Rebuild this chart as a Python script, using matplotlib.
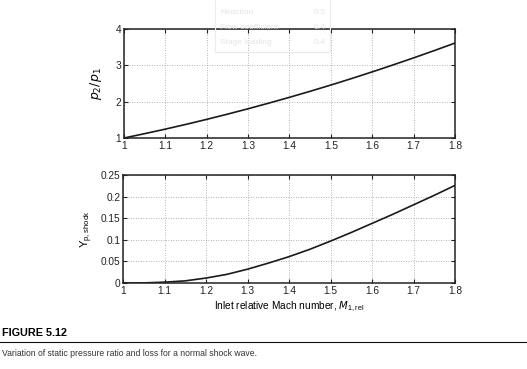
import numpy as np
import matplotlib
matplotlib.use('Agg')
import matplotlib.pyplot as plt
from matplotlib.lines import Line2D

plt.rcParams['font.family'] = ['Liberation Sans', 'DejaVu Sans']

# inlet relative Mach number
mach = [1.00, 1.05, 1.10, 1.15, 1.20, 1.25, 1.30, 1.35, 1.40,
        1.45, 1.50, 1.55, 1.60, 1.65, 1.70, 1.75, 1.80]
# static pressure ratio
p_ratio = [1.000, 1.120, 1.245, 1.376, 1.513, 1.656, 1.805, 1.960, 2.120,
           2.286, 2.458, 2.636, 2.820, 3.010, 3.205, 3.406, 3.613]
# shock loss
y_shock = [0.0, 0.0003, 0.002, 0.005, 0.0115, 0.020, 0.032, 0.046, 0.061,
           0.078, 0.097, 0.117, 0.138, 0.159, 0.181, 0.203, 0.226]

x_ticks = [1, 1.1, 1.2, 1.3, 1.4, 1.5, 1.6, 1.7, 1.8]
x_ticklabels = ['1', '1.1', '1.2', '1.3', '1.4', '1.5', '1.6', '1.7', '1.8']
top_yticks = [1, 2, 3, 4]
bot_yticks = [0, 0.05, 0.1, 0.15, 0.2, 0.25]
bot_yticklabels = ['0', '0.05', '0.1', '0.15', '0.2', '0.25']

# faint table showing through from the facing page
ghost_names = ['Reaction', 'Flow coefficient', 'Stage loading']
ghost_vals = ['0.5', '0.4', '0.4']

fig = plt.figure(figsize=(5.27, 3.69), dpi=100)
fig.patch.set_facecolor('white')

fig.patches.append(plt.Rectangle((0.408, 0.86), 0.218, 0.16, transform=fig.transFigure,
                                 fill=False, edgecolor='#ececec', lw=0.8))
for i, (t, v) in enumerate(zip(ghost_names, ghost_vals)):
    fig.text(0.418, 0.967 - i * 0.041, t, fontsize=6, color='#e4e4e4', va='center')
    fig.text(0.617, 0.967 - i * 0.041, v, fontsize=6, color='#e4e4e4', va='center', ha='right')


def style_axes(ax):
    ax.set_xlim(1, 1.8)
    ax.set_xticks(x_ticks)
    ax.set_xticklabels(x_ticklabels)
    ax.grid(True, linestyle=(0, (1, 2)), color='#9a9a9a', linewidth=0.6)
    ax.tick_params(direction='in', top=True, right=True, length=3, width=0.8,
                   labelsize=7.3, colors='#222222', pad=2)
    for s in ax.spines.values():
        s.set_linewidth(1.1)
        s.set_color('#222222')


ax1 = fig.add_axes([0.2353, 0.626, 0.628, 0.2954])
ax1.plot(mach, p_ratio, color='#1a1a1a', linewidth=1.2)
ax1.set_ylim(1, 4)
ax1.set_yticks(top_yticks)
style_axes(ax1)
ax1.set_ylabel(r'$p_2/p_1$', fontsize=9, labelpad=8)

ax2 = fig.add_axes([0.2334, 0.233, 0.6300, 0.2927])
ax2.plot(mach, y_shock, color='#1a1a1a', linewidth=1.2)
ax2.set_ylim(0, 0.25)
ax2.set_yticks(bot_yticks)
ax2.set_yticklabels(bot_yticklabels)
style_axes(ax2)
ax2.set_ylabel(r'$\mathregular{Y_{p,shock}}$', fontsize=8, labelpad=4)
ax2.set_xlabel(r'Inlet relative Mach number, $M_{\mathregular{1,rel}}$', fontsize=7.3, labelpad=3)

# figure caption
fig.text(0.004, 0.097, 'FIGURE 5.12', fontsize=7.8, fontweight='bold',
         family=['Liberation Sans Narrow', 'Liberation Sans'], va='center')
fig.lines.append(Line2D([0.0, 1.0], [0.073, 0.073], transform=fig.transFigure,
                        color='#111111', linewidth=0.8))
fig.text(0.004, 0.043, 'Variation of static pressure ratio and loss for a normal shock wave.',
         fontsize=6.2, color='#333333', va='center')

fig.savefig('out.png', dpi=100)
